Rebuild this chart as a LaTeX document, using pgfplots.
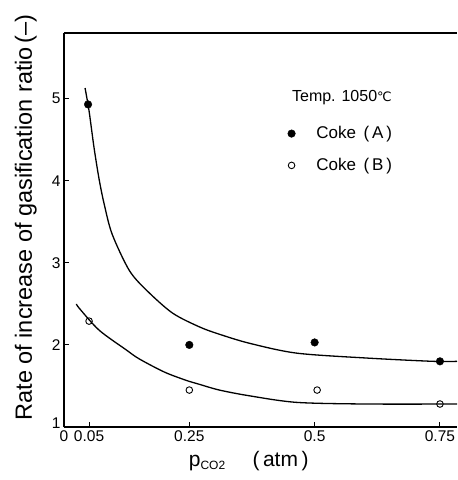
\documentclass[border=0pt]{standalone}
\usepackage{fontspec}
\setmainfont{Liberation Sans}
\newfontfamily\dejavu{DejaVu Sans}
\usepackage{pgfplots}
\pgfplotsset{compat=1.18}

% measured points
\pgfplotstableread{
x y
0.048 4.93
0.25 2.00
0.50 2.03
0.75 1.80
}\cokeA
\pgfplotstableread{
x y
0.05 2.29
0.25 1.45
0.505 1.45
0.75 1.28
}\cokeB
% hand-drawn fitted curves
\pgfplotstableread{
x y
0.042 5.13
0.05 4.85
0.06 4.40
0.07 4.02
0.08 3.72
0.096 3.35
0.13 2.91
0.164 2.67
0.216 2.39
0.27 2.22
0.31 2.13
0.37 2.02
0.464 1.90
0.604 1.84
0.736 1.80
0.784 1.80
}\fitA
\pgfplotstableread{
x y
0.025 2.50
0.03 2.45
0.07 2.18
0.124 1.94
0.15 1.83
0.20 1.67
0.243 1.57
0.27 1.52
0.31 1.45
0.37 1.38
0.464 1.30
0.604 1.28
0.784 1.28
}\fitB

\begin{document}
\begin{tikzpicture}
\begin{axis}[
  scale only axis,
  width=393pt, height=394pt,
  xmin=0, xmax=0.784,
  ymin=1, ymax=5.8,
  axis lines*=left,
  axis line style={-, line width=1.3pt},
  xtick={0,0.05,0.25,0.5,0.75},
  xticklabels={0,0.05,0.25,0.5,0.75},
  ytick={1,2,3,4,5},
  yticklabels={\raisebox{8pt}{1},2,3,4,5},
  tick align=inside,
  major tick length=5pt,
  tick style={line width=1pt, black},
  ticklabel style={font=\fontsize{15.5}{16}\selectfont},
  xlabel={p\textsubscript{\fontsize{12}{12}\selectfont CO2}\quad\ (\,atm\,)},
  xlabel style={font=\fontsize{21}{21}\selectfont, at={(axis description cs:0.47,0)}, anchor=north, yshift=-21pt},
  ylabel={Rate of increase of gasification ratio\,(\textendash)},
  ylabel style={font=\fontsize{23.5}{23}\selectfont, at={(axis description cs:-0.082,0.532)}, anchor=base},
  legend style={at={(axis cs:0.44,4.71)}, anchor=north west, draw=none, fill=none,
    font=\fontsize{17}{17}\selectfont, row sep=14pt,
    /tikz/every odd column/.append style={column sep=19pt}},
  legend cell align=left,
]
\addplot[only marks, mark=*, mark size=3.8pt, black] table {\cokeA};
\addlegendentry{Coke\ \,(\,A\,)}
\addplot[only marks, mark=o, mark size=3.3pt, black, line width=0.9pt] table {\cokeB};
\addlegendentry{Coke\ \,(\,B\,)}
\addplot[smooth, tension=0.5, line width=1.3pt, black] table {\fitA};
\addplot[smooth, tension=0.5, line width=1.3pt, black] table {\fitB};
\draw[line width=1.3pt] (rel axis cs:0,1) -- (rel axis cs:1,1);
\node[anchor=west, font=\fontsize{16}{16}\selectfont] at (axis cs:0.448,5.01) {Temp. 1050{\dejavu\fontsize{13}{13}\selectfont ℃}};
\coordinate (ll) at (rel axis cs:0,0);
\coordinate (ur) at (rel axis cs:1,1);
\end{axis}
\pgfresetboundingbox
\path ([xshift=-64pt,yshift=-53pt]ll) rectangle ([yshift=33pt]ur);
\end{tikzpicture}
\end{document}
